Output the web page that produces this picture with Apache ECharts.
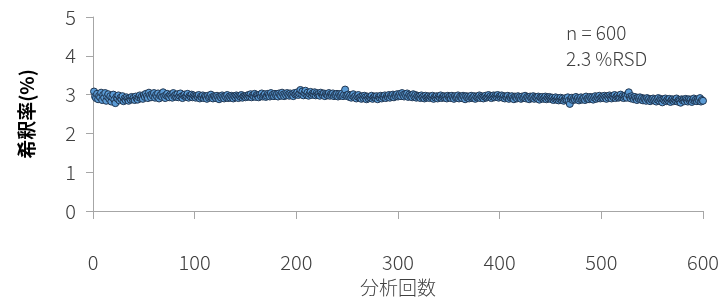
<!DOCTYPE html>
<html>
<head>
<meta charset="utf-8">
<script src="https://cdn.jsdelivr.net/npm/echarts@6/dist/echarts.min.js"></script>
<style>
  html, body { margin: 0; padding: 0; background: #fff; }
  #chart { width: 728px; height: 302px; }
</style>
</head>
<body>
<div id="chart"></div>
<script>
// 希釈率 readings, 50 runs per row (runs 1..600)
const r1 = [3.08,2.95,2.91,3.02,2.88,2.97,2.93,3.05,2.86,2.99,2.92,3.04,2.84,2.95,3.01,2.89,2.96,2.82,2.93,3.00,2.87,2.78,2.94,2.90,2.98,2.85,2.92,2.88,2.96,2.83,2.90,2.86,2.93,2.89,2.84,2.91,2.87,2.94,2.88,2.92,2.86,2.95,2.90,2.87,2.93,2.98,2.91,2.95,2.89,2.99]
const r2 = [2.94,3.02,2.96,2.91,3.05,2.98,2.93,3.01,2.97,3.04,2.92,2.99,2.95,3.03,2.90,2.97,3.00,2.94,3.06,2.96,2.91,2.98,3.02,2.95,2.93,3.00,2.97,2.92,3.04,2.96,2.99,2.94,3.01,2.93,2.97,3.03,2.95,2.91,2.98,3.00,2.94,2.96,3.02,2.92,2.97,2.95,3.00,2.93,2.98,2.95]
const r3 = [2.92,2.97,2.94,2.99,2.90,2.95,2.93,2.98,2.91,2.96,2.94,2.89,2.97,2.92,2.95,3.00,2.93,2.90,2.96,2.94,2.91,2.97,2.93,2.88,2.95,2.92,2.98,2.94,2.90,2.96,2.93,2.99,2.91,2.95,2.92,2.97,2.94,2.90,2.96,2.93,2.98,2.95,2.91,2.97,2.94,2.99,2.92,2.96,2.95,2.93]
const r4 = [2.97,2.94,2.99,2.95,3.01,2.93,2.98,2.96,3.02,2.94,2.99,2.97,2.93,3.00,2.96,3.03,2.95,2.98,3.01,2.94,2.97,3.02,2.99,2.95,3.04,2.97,3.00,2.96,3.02,2.98,3.01,2.95,3.03,2.99,2.97,3.05,3.00,2.96,3.02,2.98,3.04,3.00,2.97,3.03,2.99,3.01,2.96,3.04,3.00,3.02]
const r5 = [3.06,2.99,3.03,3.12,3.01,3.08,2.98,3.04,3.10,3.00,3.05,2.97,3.02,3.07,2.99,3.03,3.01,3.06,2.98,3.04,3.00,3.02,2.97,3.05,3.01,2.99,3.03,2.96,3.02,3.00,2.98,3.04,2.97,3.01,2.99,3.03,2.96,3.00,2.98,3.02,2.95,3.01,2.97,2.99,3.03,2.96,3.00,3.13,2.98,2.96]
const r6 = [3.00,2.94,2.98,2.92,2.97,3.01,2.93,2.96,2.90,2.95,2.99,2.92,2.94,2.89,2.96,2.91,2.97,2.93,2.88,2.95,2.90,2.94,2.92,2.97,2.89,2.93,2.95,2.91,2.96,2.88,2.94,2.92,2.97,2.90,2.95,2.93,2.98,2.91,2.96,2.94,2.99,2.92,2.97,2.95,3.00,2.93,2.98,2.96,3.01,2.95]
const r7 = [2.98,3.02,2.96,3.04,2.99,2.95,3.01,2.97,3.03,2.94,3.00,2.96,2.98,2.93,3.01,2.95,2.99,2.92,2.97,2.94,2.96,2.91,2.98,2.93,2.95,2.90,2.97,2.92,2.94,2.96,2.91,2.95,2.93,2.97,2.89,2.94,2.92,2.96,2.90,2.95,2.93,2.98,2.91,2.94,2.96,2.92,2.95,2.90,2.97,2.93]
const r8 = [2.95,2.91,2.97,2.93,2.89,2.96,2.92,2.94,2.98,2.90,2.95,2.93,2.91,2.97,2.94,2.88,2.96,2.92,2.95,2.90,2.94,2.97,2.91,2.93,2.96,2.89,2.95,2.92,2.94,2.98,2.91,2.96,2.93,2.90,2.95,2.97,2.92,2.94,2.99,2.93,2.96,2.91,2.95,2.98,2.93,2.97,2.94,2.99,2.92,2.96]
const r9 = [2.94,2.98,2.92,2.96,2.90,2.95,2.93,2.97,2.89,2.94,2.92,2.96,2.91,2.88,2.95,2.93,2.90,2.96,2.92,2.94,2.89,2.95,2.91,2.93,2.97,2.90,2.94,2.92,2.88,2.95,2.91,2.93,2.96,2.89,2.94,2.92,2.90,2.95,2.87,2.93,2.91,2.94,2.89,2.92,2.95,2.88,2.93,2.90,2.94,2.91]
const r10 = [2.88,2.92,2.86,2.90,2.93,2.87,2.91,2.85,2.89,2.92,2.86,2.90,2.84,2.88,2.91,2.87,2.93,2.85,2.76,2.89,2.92,2.86,2.90,2.87,2.94,2.88,2.91,2.85,2.89,2.93,2.87,2.90,2.92,2.86,2.95,2.89,2.91,2.88,2.94,2.90,2.93,2.87,2.92,2.96,2.89,2.94,2.91,2.97,2.90,2.93]
const r11 = [2.95,2.91,2.97,2.93,2.89,2.96,2.92,2.98,2.94,2.90,2.96,2.93,2.99,2.91,2.95,2.97,2.92,2.94,3.00,2.93,2.96,2.91,2.95,2.98,2.92,3.01,3.06,2.94,2.90,2.96,2.92,2.88,2.94,2.90,2.86,2.92,2.89,2.93,2.87,2.91,2.85,2.90,2.88,2.84,2.91,2.87,2.89,2.83,2.88,2.86]
const r12 = [2.90,2.85,2.88,2.82,2.87,2.91,2.84,2.89,2.86,2.80,2.88,2.85,2.90,2.83,2.87,2.84,2.89,2.81,2.86,2.88,2.83,2.87,2.85,2.90,2.82,2.86,2.84,2.79,2.88,2.85,2.87,2.83,2.89,2.86,2.82,2.88,2.84,2.87,2.81,2.86,2.90,2.84,2.87,2.83,2.88,2.85,2.91,2.82,2.86,2.84]

const xTicks = [0, 100, 200, 300, 400, 500, 600]
const yTicks = [0, 1, 2, 3, 4, 5]
const noteLines = ['n = 600', '2.3 %RSD']

const values = [].concat(r1, r2, r3, r4, r5, r6, r7, r8, r9, r10, r11, r12)
const points = values.map((v, i) => [i + 1, v])

const font = "'Noto Sans CJK JP', 'Noto Sans', sans-serif"
const axisColor = '#a6a6a6'
const textColor = '#404040'

const chart = echarts.init(document.getElementById('chart'))
chart.setOption({
    animation: false,
    grid: { left: 93, right: 25, top: 17, bottom: 91 },
    xAxis: {
        type: 'value',
        min: xTicks[0],
        max: xTicks[xTicks.length - 1],
        interval: 100,
        name: '分析回数',
        nameLocation: 'middle',
        nameGap: 67,
        nameTextStyle: { fontFamily: font, fontSize: 19, color: textColor, fontWeight: 300 },
        axisLine: { lineStyle: { color: axisColor, width: 1 } },
        axisTick: { show: true, length: 8, lineStyle: { color: axisColor } },
        axisLabel: { margin: 41, fontFamily: font, fontSize: 20, color: textColor, fontWeight: 300 },
        splitLine: { show: false }
    },
    yAxis: {
        type: 'value',
        min: yTicks[0],
        max: yTicks[yTicks.length - 1],
        interval: 1,
        name: '希釈率(%)',
        nameLocation: 'middle',
        nameGap: 57,
        nameTextStyle: { fontFamily: font, fontSize: 19, color: '#000', fontWeight: 'bold' },
        axisLine: { show: true, lineStyle: { color: axisColor, width: 1 } },
        axisTick: { show: true, length: 7, lineStyle: { color: axisColor } },
        axisLabel: { margin: 17, fontFamily: font, fontSize: 20, color: textColor, fontWeight: 300 },
        splitLine: { show: false }
    },
    graphic: [
        {
            type: 'text',
            left: 566,
            top: 20,
            style: {
                text: noteLines.join('\n'),
                fontFamily: font,
                fontSize: 19,
                lineHeight: 26,
                fill: textColor,
                fontWeight: 300
            }
        }
    ],
    series: [
        {
            type: 'scatter',
            data: points,
            symbol: 'circle',
            symbolSize: 7,
            itemStyle: { color: '#5b9bd5', borderColor: '#1f3550', borderWidth: 1, opacity: 1 }
        }
    ]
})
</script>
</body>
</html>
